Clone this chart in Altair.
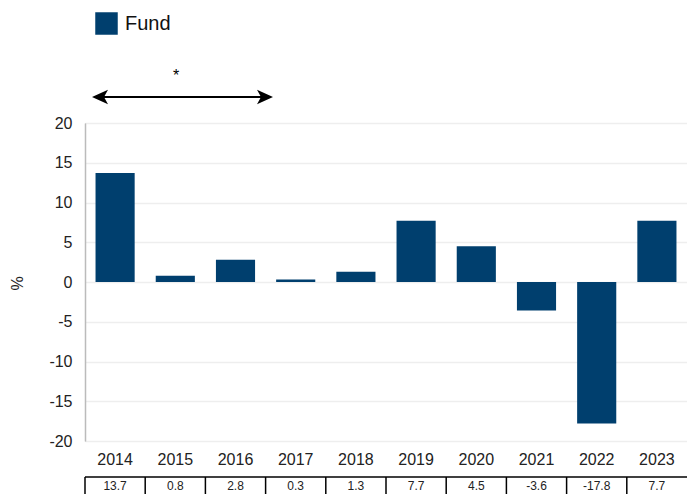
import altair as alt
import pandas as pd

years = ["2014", "2015", "2016", "2017", "2018", "2019", "2020", "2021", "2022", "2023"]
fund = [13.7, 0.8, 2.8, 0.3, 1.3, 7.7, 4.5, -3.6, -17.8, 7.7]
fund_labels = ["13.7", "0.8", "2.8", "0.3", "1.3", "7.7", "4.5", "-3.6", "-17.8", "7.7"]
y_ticks = [-20, -15, -10, -5, 0, 5, 10, 15, 20]
series_name = "Fund"

BAR = "#003f6e"
FONT = "Liberation Sans"
W, H = 602, 318
PAD_IN = 0.35
STEP = W / len(years)

df = pd.DataFrame({"year": years, "value": fund, "label": fund_labels, "series": series_name})

xscale = alt.Scale(domain=years, paddingInner=PAD_IN, paddingOuter=PAD_IN / 2)
yscale = alt.Scale(domain=[-20, 20], nice=False, zero=False)

bars = alt.Chart(df).mark_bar().encode(
    x=alt.X("year:N", scale=xscale, sort=years,
            axis=alt.Axis(title=None, labelAngle=0, domain=False, ticks=False,
                          labelPadding=10, labelFontSize=16, labelColor="#222222",
                          labelFont=FONT, grid=False)),
    y=alt.Y("value:Q", scale=yscale,
            axis=alt.Axis(values=y_ticks, title="%", labelExpr="'' + datum.value",
                          labelFontSize=16, labelColor="#222222", labelFont=FONT,
                          ticks=False, labelPadding=13, domainColor="#bbbbbb",
                          domainWidth=1.5, gridColor="#eeeeee", gridWidth=1.5,
                          titleFont=FONT, titleFontSize=16, titleFontWeight="normal",
                          titleColor="#222222", titleX=-68, titleY=160,
                          titleAlign="center", titleBaseline="middle")),
    color=alt.Color("series:N", scale=alt.Scale(range=[BAR]),
                    legend=alt.Legend(title=None, orient="none", legendX=10, legendY=-111,
                                      symbolType="square", symbolSize=506,
                                      symbolStrokeWidth=0, symbolOpacity=1,
                                      labelFontSize=20, labelFont=FONT,
                                      labelColor="#111111", labelOffset=7, padding=0)),
)

# annotation arrow with star
arrow_line = alt.Chart(df.head(1)).mark_rule(color="black", strokeWidth=2).encode(
    x=alt.value(10), x2=alt.value(185), y=alt.value(-26))
left_head = alt.Chart(df.head(1)).mark_point(
    shape="M-1,0L1,-0.9L0.5,0L1,0.9Z", filled=True, color="black", opacity=1, size=256
).encode(x=alt.value(15), y=alt.value(-26))
right_head = alt.Chart(df.head(1)).mark_point(
    shape="M1,0L-1,-0.9L-0.5,0L-1,0.9Z", filled=True, color="black", opacity=1, size=256
).encode(x=alt.value(180), y=alt.value(-26))
star = alt.Chart(df.head(1)).mark_text(text="*", fontSize=16, font=FONT, color="black").encode(
    x=alt.value(91), y=alt.value(-47))

# value table below axis
TOP = 354
table_top = alt.Chart(df.head(1)).mark_rule(color="black", strokeWidth=1.5).encode(
    x=alt.value(0), x2=alt.value(W), y=alt.value(TOP))
vlines = alt.Chart(df).mark_rule(color="black", strokeWidth=1.5, xOffset=-STEP / 2).encode(
    x=alt.X("year:N", scale=xscale, sort=years, bandPosition=0.5),
    y=alt.value(TOP), y2=alt.value(TOP + 30))
cells = alt.Chart(df).mark_text(fontSize=12, font=FONT, color="#222222", baseline="middle").encode(
    x=alt.X("year:N", scale=xscale, sort=years, bandPosition=0.5),
    y=alt.value(TOP + 8.5), text="label:N")

chart = alt.layer(bars, arrow_line, left_head, right_head, star,
                  table_top, vlines, cells).properties(
    width=W, height=H,
    autosize=alt.AutoSizeParams(type="none"),
    padding={"left": 77, "top": 115, "right": 0, "bottom": 53},
).configure_view(stroke=None).configure(background="white")

chart.save("out.html", embed_options={"renderer": "svg", "actions": False})
